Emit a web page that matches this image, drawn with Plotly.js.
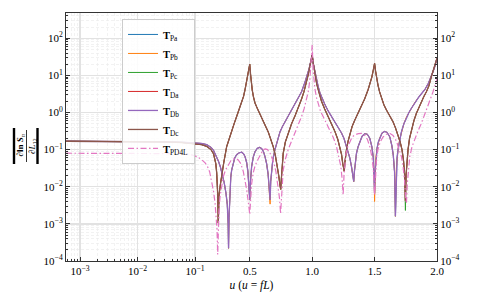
<!DOCTYPE html>
<html>
<head>
<meta charset="utf-8">
<script src="https://cdn.plot.ly/plotly-3.0.1.min.js"></script>
<style>html,body{margin:0;padding:0;background:#fff}#chart{width:478px;height:306px}</style>
</head>
<body>
<div id="chart"></div>
<script>
// ---------- data (u = fL) ----------
const uDc = [0.00057,0.001,0.003,0.01,0.03,0.06,0.1,0.13,0.16,0.19,0.21,0.22,0.228,0.235,0.243,0.248,0.254,0.266,0.28,0.292,0.315,0.335,0.355,0.375,0.395,0.415,0.435,0.45,0.462,0.472,0.48,0.488,0.494,0.5,0.506,0.512,0.52,0.53,0.542,0.56,0.58,0.6,0.625,0.648,0.668,0.688,0.705,0.72,0.732,0.742,0.748,0.753,0.76,0.768,0.785,0.808,0.835,0.862,0.89,0.915,0.935,0.955,0.97,0.982,0.992,1.0,1.008,1.016,1.025,1.036,1.048,1.062,1.075,1.1,1.128,1.155,1.182,1.205,1.222,1.235,1.245,1.252,1.257,1.262,1.268,1.275,1.288,1.302,1.32,1.342,1.368,1.395,1.42,1.448,1.465,1.478,1.49,1.5,1.508,1.516,1.527,1.54,1.555,1.575,1.595,1.62,1.648,1.668,1.688,1.705,1.72,1.732,1.741,1.747,1.752,1.758,1.768,1.78,1.795,1.815,1.835,1.855,1.875,1.895,1.915,1.935,1.955,1.97,1.982,1.992,2.0];
const tDc = [0.168,0.168,0.167,0.165,0.161,0.155,0.146,0.136,0.122,0.1,0.077,0.058,0.042,0.024,0.0065,0.00105,0.006,0.0124,0.027,0.045,0.12,0.2,0.34,0.5,0.78,1.2,1.8,2.7,4.1,6.0,9.3,13,17,20,11,6.5,4.0,2.6,1.8,1.3,0.95,0.7,0.46,0.3,0.19,0.12,0.07,0.038,0.02,0.011,0.0085,0.016,0.04,0.079,0.16,0.28,0.5,0.8,1.35,2.3,3.7,6.5,11,18,26,35,22,14,9,6,4.2,2.8,2.0,1.25,0.8,0.5,0.31,0.19,0.12,0.075,0.042,0.028,0.026,0.045,0.07,0.1,0.17,0.27,0.42,0.63,0.95,1.45,2.3,4.1,6,9,14,21,13,8.5,5.5,3.6,2.5,1.6,1.17,0.82,0.56,0.38,0.25,0.16,0.098,0.05,0.02,0.0042,0.02,0.05,0.1,0.2,0.34,0.6,0.95,1.4,1.95,2.7,3.6,5.2,9.3,13,17,22,29];
const tDa = [0.168,0.168,0.167,0.165,0.161,0.155,0.146,0.136,0.122,0.1,0.077,0.058,0.042,0.024,0.0065,0.00105,0.006,0.0124,0.027,0.045,0.12,0.2,0.34,0.5,0.78,1.2,1.8,2.7,4.1,6.0,9.3,13,17,20,11,6.5,4.0,2.6,1.8,1.3,0.95,0.7,0.46,0.3,0.19,0.12,0.07,0.038,0.02,0.011,0.0085,0.016,0.04,0.079,0.16,0.28,0.5,0.8,1.35,2.3,3.7,6.5,11,18,26,35,22,14,9,6,4.2,2.8,2.0,1.25,0.8,0.5,0.31,0.19,0.12,0.075,0.042,0.028,0.026,0.045,0.07,0.1,0.17,0.27,0.42,0.63,0.95,1.45,2.3,4.1,6,9,14,21,13,8.5,5.5,3.6,2.5,1.6,1.17,0.82,0.56,0.38,0.25,0.16,0.098,0.05,0.02,0.0042,0.02,0.05,0.1,0.2,0.34,0.6,0.95,1.4,1.95,2.7,3.6,5.2,9.3,13,17,22,29];
const tPc = [0.168,0.168,0.167,0.165,0.161,0.155,0.146,0.136,0.122,0.1,0.077,0.058,0.042,0.024,0.0065,0.00105,0.006,0.0124,0.027,0.045,0.12,0.2,0.34,0.5,0.78,1.2,1.8,2.7,4.1,6.0,9.3,13,17,20,11,6.5,4.0,2.6,1.8,1.3,0.95,0.7,0.46,0.3,0.19,0.12,0.07,0.038,0.02,0.011,0.0085,0.016,0.04,0.079,0.16,0.28,0.5,0.8,1.35,2.3,3.7,6.5,11,18,26,35,22,14,9,6,4.2,2.8,2.0,1.25,0.8,0.5,0.31,0.19,0.12,0.075,0.042,0.028,0.026,0.045,0.07,0.1,0.17,0.27,0.42,0.63,0.95,1.45,2.3,4.1,6,9,14,21,13,8.5,5.5,3.6,2.5,1.6,1.17,0.82,0.56,0.38,0.25,0.16,0.098,0.05,0.02,0.0023,0.02,0.05,0.1,0.2,0.34,0.6,0.95,1.4,1.95,2.7,3.6,5.2,9.3,13,17,22,29];

const uDb = [0.00057,0.001,0.003,0.01,0.03,0.06,0.1,0.13,0.16,0.19,0.21,0.23,0.25,0.265,0.28,0.295,0.31,0.32,0.327,0.33,0.334,0.34,0.348,0.355,0.368,0.38,0.395,0.415,0.435,0.45,0.462,0.475,0.485,0.493,0.5,0.505,0.515,0.528,0.542,0.56,0.578,0.595,0.61,0.622,0.635,0.647,0.656,0.663,0.668,0.675,0.685,0.702,0.72,0.742,0.762,0.782,0.808,0.835,0.862,0.888,0.915,0.942,0.96,0.975,0.988,1.0,1.01,1.02,1.032,1.048,1.062,1.075,1.1,1.128,1.155,1.182,1.21,1.235,1.255,1.275,1.29,1.302,1.315,1.325,1.333,1.338,1.345,1.355,1.368,1.382,1.4,1.422,1.442,1.462,1.478,1.49,1.496,1.5,1.504,1.51,1.52,1.53,1.542,1.56,1.582,1.6,1.622,1.638,1.65,1.66,1.667,1.674,1.68,1.688,1.7,1.715,1.735,1.755,1.775,1.795,1.82,1.848,1.875,1.902,1.93,1.955,1.97,1.982,1.992,2.0];
const tDb = [0.168,0.168,0.167,0.165,0.162,0.158,0.152,0.146,0.136,0.115,0.095,0.07,0.048,0.034,0.022,0.013,0.0065,0.0033,0.001,0.00022,0.0015,0.008,0.018,0.028,0.045,0.06,0.073,0.082,0.085,0.078,0.065,0.045,0.026,0.012,0.0045,0.013,0.035,0.063,0.088,0.108,0.115,0.108,0.088,0.065,0.042,0.022,0.0095,0.0044,0.014,0.03,0.055,0.1,0.17,0.3,0.42,0.56,0.8,1.15,1.7,2.6,3.6,6.5,10,15,23,35,20,13,8,5.0,3.4,2.6,1.7,1.1,0.78,0.56,0.4,0.28,0.2,0.125,0.085,0.059,0.035,0.018,0.0138,0.025,0.05,0.08,0.12,0.17,0.23,0.27,0.26,0.2,0.12,0.06,0.025,0.0068,0.025,0.06,0.11,0.16,0.21,0.28,0.31,0.29,0.22,0.13,0.07,0.025,0.0016,0.03,0.06,0.1,0.18,0.3,0.5,0.75,1.0,1.3,1.8,2.45,3.2,4.1,6,9.3,13,17,22,29];
const tPa = [0.168,0.168,0.167,0.165,0.162,0.158,0.152,0.146,0.136,0.115,0.095,0.07,0.048,0.034,0.022,0.013,0.0065,0.0033,0.001,0.00022,0.0015,0.008,0.018,0.028,0.045,0.06,0.073,0.082,0.085,0.078,0.065,0.045,0.026,0.012,0.0045,0.013,0.035,0.063,0.088,0.108,0.115,0.108,0.088,0.065,0.042,0.022,0.0095,0.0044,0.014,0.03,0.055,0.1,0.17,0.3,0.42,0.56,0.8,1.15,1.7,2.6,3.6,6.5,10,15,23,35,20,13,8,5.0,3.4,2.6,1.7,1.1,0.78,0.56,0.4,0.28,0.2,0.125,0.085,0.059,0.035,0.018,0.0138,0.025,0.05,0.08,0.12,0.17,0.23,0.27,0.26,0.2,0.12,0.06,0.025,0.0068,0.025,0.06,0.11,0.16,0.21,0.28,0.31,0.29,0.22,0.13,0.07,0.025,0.0016,0.03,0.06,0.1,0.18,0.3,0.5,0.75,1.0,1.3,1.8,2.45,3.2,4.1,6,9.3,13,17,22,29];
const tPb = [0.168,0.168,0.167,0.165,0.162,0.158,0.152,0.146,0.136,0.115,0.095,0.07,0.048,0.034,0.022,0.013,0.0065,0.0033,0.001,0.00022,0.0015,0.008,0.018,0.028,0.045,0.06,0.073,0.082,0.085,0.078,0.065,0.045,0.026,0.012,0.0045,0.013,0.035,0.063,0.088,0.108,0.115,0.108,0.088,0.065,0.042,0.022,0.0095,0.0034,0.014,0.03,0.055,0.1,0.17,0.3,0.42,0.56,0.8,1.15,1.7,2.6,3.6,6.5,10,15,23,35,20,13,8,5.0,3.4,2.6,1.7,1.1,0.78,0.56,0.4,0.28,0.2,0.125,0.085,0.059,0.035,0.018,0.0138,0.025,0.05,0.08,0.12,0.17,0.23,0.27,0.26,0.2,0.12,0.06,0.025,0.004,0.025,0.06,0.11,0.16,0.21,0.28,0.31,0.29,0.22,0.13,0.07,0.025,0.0016,0.03,0.06,0.1,0.18,0.3,0.5,0.75,1.0,1.3,1.8,2.45,3.2,4.1,6,9.3,13,17,22,29];

const uPD = [0.00057,0.001,0.003,0.01,0.03,0.05,0.07,0.09,0.11,0.13,0.15,0.165,0.18,0.197,0.21,0.222,0.232,0.238,0.243,0.248,0.254,0.262,0.275,0.288,0.305,0.328,0.348,0.368,0.39,0.408,0.428,0.448,0.462,0.475,0.487,0.5,0.508,0.515,0.528,0.542,0.56,0.576,0.592,0.608,0.625,0.642,0.66,0.678,0.695,0.71,0.725,0.738,0.747,0.755,0.762,0.768,0.785,0.808,0.835,0.862,0.89,0.915,0.935,0.955,0.97,0.982,0.991,1.0,1.008,1.015,1.022,1.035,1.048,1.068,1.088,1.115,1.142,1.17,1.195,1.215,1.23,1.24,1.248,1.255,1.262,1.27,1.285,1.302,1.32,1.342,1.37,1.395,1.42,1.442,1.462,1.478,1.49,1.5,1.508,1.517,1.527,1.545,1.568,1.595,1.622,1.648,1.675,1.695,1.715,1.728,1.74,1.748,1.755,1.762,1.772,1.782,1.8,1.822,1.848,1.875,1.9,1.928,1.95,1.968,1.985,2.0];
const tPD4L = [0.08,0.08,0.08,0.08,0.079,0.078,0.076,0.071,0.064,0.054,0.044,0.035,0.025,0.0135,0.0075,0.0036,0.0015,0.0007,0.00015,0.0008,0.0025,0.0054,0.011,0.0186,0.028,0.039,0.05,0.056,0.057,0.053,0.042,0.026,0.016,0.0085,0.0042,0.0018,0.005,0.012,0.024,0.036,0.05,0.065,0.085,0.1,0.105,0.1,0.085,0.062,0.042,0.025,0.012,0.005,0.0019,0.008,0.018,0.028,0.055,0.1,0.17,0.275,0.45,0.78,1.25,2.2,3.8,8,18,66,14,7,4.3,2.5,1.65,1.05,0.78,0.52,0.34,0.21,0.12,0.065,0.035,0.016,0.006,0.02,0.045,0.075,0.12,0.17,0.22,0.25,0.27,0.275,0.245,0.19,0.12,0.065,0.03,0.006,0.03,0.065,0.1,0.16,0.22,0.26,0.275,0.24,0.17,0.11,0.065,0.035,0.015,0.0055,0.0035,0.012,0.035,0.065,0.12,0.2,0.32,0.51,0.85,1.45,2.4,3.6,5.5,8];

const seriesNames = ['<b>T</b><sub>Pa</sub>','<b>T</b><sub>Pb</sub>','<b>T</b><sub>Pc</sub>','<b>T</b><sub>Da</sub>','<b>T</b><sub>Db</sub>','<b>T</b><sub>Dc</sub>','<b>T</b><sub>PD4L</sub>'];
const seriesColors = ['#1f77b4','#ff7f0e','#2ca02c','#d62728','#9467bd','#8c564b','#e377c2'];

const xTickU = [0.001,0.01,0.1,0.5,1.0,1.5,2.0];
const xTickText = ['10<sup>−3</sup>','10<sup>−2</sup>','10<sup>−1</sup>','0.5','1.0','1.5','2.0'];
const xMinorU = [0.0006,0.0007,0.0008,0.0009,0.002,0.003,0.004,0.005,0.006,0.007,0.008,0.009,0.02,0.03,0.04,0.05,0.06,0.07,0.08,0.09];
const yTickV = [1e-4,1e-3,1e-2,1e-1,1,10,100];
const yTickText = ['10<sup>−4</sup>','10<sup>−3</sup>','10<sup>−2</sup>','10<sup>−1</sup>','10<sup>0</sup>','10<sup>1</sup>','10<sup>2</sup>'];
const yMinorV = [];
yTickV.forEach(d=>{for(let k=2;k<=9;k++){yMinorV.push(k*d);}});
const xMinU = 0.00057, xMaxU = 2.0;

// ---------- custom x scale: log below U0, linear above (C1 joined) ----------
const U0 = 0.2;
function T(u){ return u >= U0 ? u : U0 + U0*Math.log(u/U0); }

const xs = [uDb,uDb,uDc,uDc,uDb,uDc,uPD];
const ys = [tPa,tPb,tPc,tDa,tDb,tDc,tPD4L];
const widths = [1.0,1.0,1.0,1.0,1.3,1.3,1.2];
const traces = ys.map((y,i)=>({
  type:'scatter', mode:'lines',
  x: xs[i].map(T), y: y,
  name: seriesNames[i],
  line:{color:seriesColors[i], width: widths[i], dash: i===6 ? '6px,2.5px,1.5px,2.5px' : 'solid'},
  hoverinfo:'skip'
}));
// transparent copy on the right-hand axis so that axis (with its labels) is drawn
traces.push({type:'scatter', mode:'lines', x: uPD.map(T), y: tPD4L, yaxis:'y2',
  opacity:0, showlegend:false, hoverinfo:'skip', line:{width:0.1, color:'rgba(0,0,0,0)'}});

const font = {family:'Liberation Serif, DejaVu Serif, serif', size:11, color:'#000'};
const yCommon = {
  type:'log', range:[-4,2.68], tickmode:'array', tickvals:yTickV, ticktext:yTickText,
  ticks:'inside', ticklen:4, tickwidth:1, tickcolor:'#333',
  showline:true, linecolor:'#333', linewidth:1, zeroline:false,
  tickfont:font
};
const minorGrid = {showgrid:true, gridcolor:'#ececec', griddash:'3px,2px', gridwidth:0.7};
const labelY = 0.4637;   // vertical centre of the y label (paper)
const layout = {
  width:478, height:306,
  margin:{l:66, r:41, t:13, b:45},
  paper_bgcolor:'#fff', plot_bgcolor:'#fff',
  font:font,
  showlegend:true,
  legend:{x:0.151, y:0.976, xanchor:'left', yanchor:'top',
          bgcolor:'rgba(255,255,255,0.85)', bordercolor:'#cccccc', borderwidth:1,
          font:{family:font.family, size:10.5, color:'#000'}},
  xaxis:{
    range:[T(xMinU), T(xMaxU)], tickmode:'array', tickvals:xTickU.map(T), ticktext:xTickText,
    ticks:'inside', ticklen:4, tickwidth:1, tickcolor:'#333',
    showline:true, linecolor:'#333', linewidth:1, mirror:true, zeroline:false,
    showgrid:true, gridcolor:'#e2e2e2', gridwidth:1.3,
    minor:Object.assign({tickvals:xMinorU.map(T), ticks:'inside', ticklen:2, tickcolor:'#333'}, minorGrid),
    tickfont:font,
    title:{text:'<i>u</i> (<i>u</i> = <i>fL</i>)', font:{family:font.family, size:11.5}, standoff:4}
  },
  yaxis:Object.assign({}, yCommon, {
    showgrid:true, gridcolor:'#e2e2e2', gridwidth:1.3,
    minor:Object.assign({tickvals:yMinorV, ticks:'inside', ticklen:2, tickcolor:'#333'}, minorGrid)
  }),
  yaxis2:Object.assign({}, yCommon, {
    overlaying:'y', side:'right', anchor:'x', showgrid:false,
    minor:{tickvals:yMinorV, ticks:'inside', ticklen:2, tickcolor:'#333', showgrid:false}
  }),
  // y-axis label: |∂ln S_n / ∂L_12| drawn as a rotated fraction
  annotations:[
    {xref:'paper', yref:'paper', x:0, y:labelY, xshift:-45.5, textangle:-90, showarrow:false,
     xanchor:'center', yanchor:'middle', borderpad:0,
     text:'<b>∂ln <i>S</i></b><sub><i>n</i></sub>', font:{family:font.family, size:9, color:'#000'}},
    {xref:'paper', yref:'paper', x:0, y:labelY, xshift:-34, textangle:-90, showarrow:false,
     xanchor:'center', yanchor:'middle', borderpad:0,
     text:'∂<i>L</i><sub>12</sub>', font:{family:font.family, size:9, color:'#000'}}
  ],
  shapes:[
    {type:'line', xref:'paper', yref:'paper', xsizemode:'pixel', ysizemode:'pixel', xanchor:0, yanchor:labelY,
     x0:-52, x1:-52, y0:-18, y1:18, line:{color:'#000', width:2.4}},
    {type:'line', xref:'paper', yref:'paper', xsizemode:'pixel', ysizemode:'pixel', xanchor:0, yanchor:labelY,
     x0:-39.5, x1:-39.5, y0:-16, y1:16, line:{color:'#000', width:0.8}},
    {type:'line', xref:'paper', yref:'paper', xsizemode:'pixel', ysizemode:'pixel', xanchor:0, yanchor:labelY,
     x0:-28.5, x1:-28.5, y0:-18, y1:18, line:{color:'#000', width:2.4}}
  ]
};
Plotly.newPlot('chart', traces, layout, {staticPlot:true, displayModeBar:false});
</script>
</body>
</html>
